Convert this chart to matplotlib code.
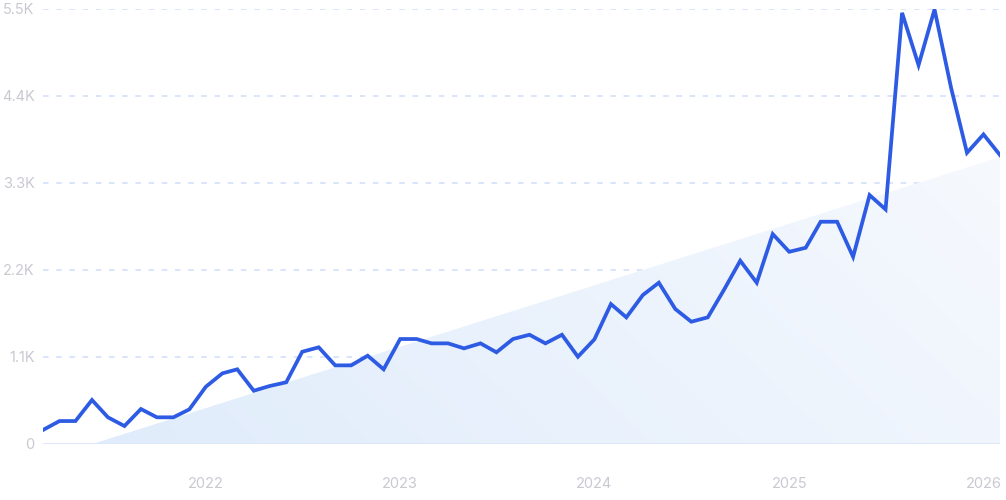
import numpy as np
import pandas as pd
import matplotlib
matplotlib.use("Agg")
import matplotlib.pyplot as plt
import matplotlib.dates as mdates
from matplotlib.patches import Polygon

plt.rcParams['font.family'] = ['Inter', 'DejaVu Sans']
plt.rcParams['lines.scale_dashes'] = False

months = pd.date_range("2021-03-01", "2026-02-01", freq="MS")
values = [171, 284, 284, 550, 331, 221, 436, 331, 331, 432,
          718, 887, 938, 667, 727, 774, 1160, 1216, 988, 988,
          1110, 938, 1321, 1321, 1266, 1266, 1203, 1266, 1153, 1321,
          1375, 1266, 1375, 1097, 1317, 1763, 1595, 1877, 2033, 1700,
          1540, 1595, 1950, 2311, 2033, 2648, 2424, 2475, 2804, 2804,
          2361, 3141, 2960, 5445, 4784, 5488, 4500, 3676, 3908, 3647]
y_ticks = [0, 1100, 2200, 3300, 4400, 5500]
y_labels = ["0", "1.1K", "2.2K", "3.3K", "4.4K", "5.5K"]
year_ticks = ["2022", "2023", "2024", "2025", "2026"]

line_color = "#2d5be3"
label_color = "#c9c9d1"

fig = plt.figure(figsize=(10.06, 5.0), dpi=100)
ax = fig.add_axes([43/1006, (500-443.5)/500, (1000-43)/1006, (443.5-8.5)/500])

x = mdates.date2num(months)
vals = np.array(values, dtype=float)

# linear trend (regression) area, clipped at zero
k, b = np.polyfit(x, vals, 1)
x0 = max(x[0], -b / k)
xe = x[-1]
poly = Polygon([[x0, 0], [xe, k * xe + b], [xe, 0]], closed=True,
               facecolor='none', edgecolor='none')
ax.add_patch(poly)
gx, gy = np.meshgrid(np.linspace(0, 1, 256), np.linspace(0, 1, 128))
t = np.clip(0.75 * gx + 0.25 * (1 - gy), 0, 1)
c0 = np.array([224, 236, 251]) / 255
c1 = np.array([246, 249, 254]) / 255
img = c0[None, None, :] * (1 - t[..., None]) + c1[None, None, :] * t[..., None]
im = ax.imshow(img, extent=[x0, xe, 0, k * xe + b], origin='upper',
               aspect='auto', zorder=1, interpolation='bilinear')
im.set_clip_path(poly)

# grid lines
for yt in y_ticks[1:]:
    ax.axhline(yt, color="#d3e0fc", lw=1.2, linestyle=(0, (4, 5.5)), zorder=0.5)
ax.axhline(0, color="#d7e3fa", lw=1.2, zorder=2)

ax.plot(x, vals, color=line_color, lw=2.7, solid_joinstyle='miter', zorder=3)

ax.set_xlim(x[0], x[-1])
ax.set_ylim(0, 5500)
ax.set_yticks(y_ticks)
ax.set_yticklabels(y_labels)
ax.set_xticks(mdates.date2num(pd.to_datetime([f"{y}-01-01" for y in year_ticks])))
ax.set_xticklabels(year_ticks)
ax.tick_params(axis='both', length=0, labelcolor=label_color, labelsize=10.5)
ax.tick_params(axis='y', pad=6)
ax.tick_params(axis='x', pad=24)
for s in ax.spines.values():
    s.set_visible(False)
ax.set_facecolor('none')

fig.savefig("out.png", dpi=100, facecolor='white')
